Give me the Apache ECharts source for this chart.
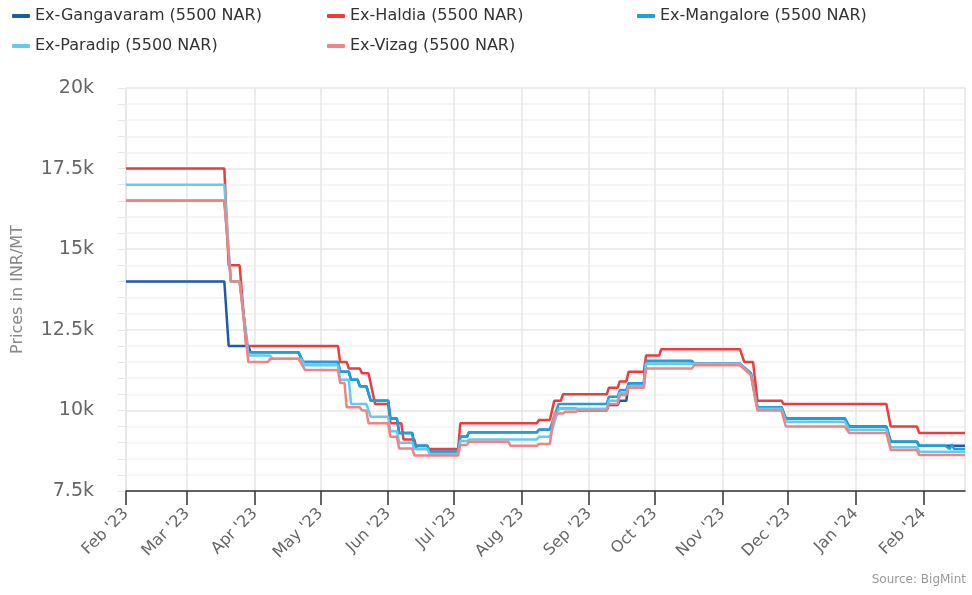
<!DOCTYPE html>
<html>
<head>
<meta charset="utf-8">
<script src="https://cdn.jsdelivr.net/npm/echarts@6/dist/echarts.min.js"></script>
<style>
  html, body { margin: 0; padding: 0; background: #fff; }
  #chart { width: 972px; height: 595px; }
</style>
</head>
<body>
<div id="chart"></div>
<script>
'use strict';

const seriesNames = [
    'Ex-Gangavaram (5500 NAR)',
    'Ex-Haldia (5500 NAR)',
    'Ex-Mangalore (5500 NAR)',
    'Ex-Paradip (5500 NAR)',
    'Ex-Vizag (5500 NAR)',
];

const yTicks = [7500, 10000, 12500, 15000, 17500, 20000];

const gangavaram = [
    ['2023-02-01', 14000], ['2023-03-18', 14000], ['2023-03-20', 12000], ['2023-03-29', 12000],
    ['2023-03-30', 11800], ['2023-04-21', 11800], ['2023-04-23', 11500], ['2023-05-09', 11500],
    ['2023-05-10', 11200], ['2023-05-14', 11200], ['2023-05-15', 10950], ['2023-05-18', 10950],
    ['2023-05-19', 10750], ['2023-05-22', 10750], ['2023-05-24', 10300], ['2023-06-01', 10300],
    ['2023-06-02', 9750], ['2023-06-05', 9750], ['2023-06-06', 9300], ['2023-06-12', 9300],
    ['2023-06-13', 8900], ['2023-06-19', 8900], ['2023-06-20', 8720], ['2023-07-03', 8720],
    ['2023-07-04', 9180], ['2023-07-07', 9180], ['2023-07-08', 9320], ['2023-08-08', 9320],
    ['2023-08-09', 9400], ['2023-08-14', 9400], ['2023-08-18', 10050], ['2023-08-26', 10050],
    ['2023-08-27', 10000], ['2023-09-09', 10000], ['2023-09-10', 10170], ['2023-09-14', 10170],
    ['2023-09-15', 10300], ['2023-09-18', 10300], ['2023-09-19', 10840], ['2023-09-26', 10840],
    ['2023-09-27', 11530], ['2023-10-18', 11530], ['2023-10-19', 11450], ['2023-11-09', 11450],
    ['2023-11-14', 11150], ['2023-11-17', 10100], ['2023-11-28', 10100], ['2023-11-30', 9750],
    ['2023-12-27', 9750], ['2023-12-29', 9500], ['2024-01-15', 9500], ['2024-01-17', 9030],
    ['2024-01-29', 9030], ['2024-01-30', 8900], ['2024-02-20', 8900],
];

const haldia = [
    ['2023-02-01', 17500], ['2023-03-18', 17500], ['2023-03-20', 14500], ['2023-03-25', 14500],
    ['2023-03-28', 12000], ['2023-05-09', 12000], ['2023-05-10', 11500], ['2023-05-13', 11500],
    ['2023-05-14', 11300], ['2023-05-19', 11300], ['2023-05-20', 11150], ['2023-05-23', 11150],
    ['2023-05-26', 10200], ['2023-06-01', 10200], ['2023-06-02', 9600], ['2023-06-07', 9600],
    ['2023-06-08', 9100], ['2023-06-13', 9100], ['2023-06-14', 8800], ['2023-07-03', 8800],
    ['2023-07-04', 9600], ['2023-08-08', 9600], ['2023-08-09', 9700], ['2023-08-14', 9700],
    ['2023-08-16', 10300], ['2023-08-19', 10300], ['2023-08-20', 10500], ['2023-09-09', 10500],
    ['2023-09-10', 10700], ['2023-09-14', 10700], ['2023-09-15', 10900], ['2023-09-18', 10900],
    ['2023-09-19', 11200], ['2023-09-26', 11200], ['2023-09-27', 11700], ['2023-10-03', 11700],
    ['2023-10-04', 11900], ['2023-11-09', 11900], ['2023-11-11', 11500], ['2023-11-15', 11500],
    ['2023-11-17', 10300], ['2023-11-28', 10300], ['2023-11-29', 10200], ['2024-01-15', 10200],
    ['2024-01-17', 9500], ['2024-01-29', 9500], ['2024-01-30', 9300], ['2024-02-20', 9300],
];

const mangalore = [
    ['2023-02-01', 16500], ['2023-03-18', 16500], ['2023-03-21', 14000], ['2023-03-25', 14000],
    ['2023-03-29', 11800], ['2023-04-21', 11800], ['2023-04-23', 11500], ['2023-05-09', 11500],
    ['2023-05-10', 11200], ['2023-05-14', 11200], ['2023-05-15', 10950], ['2023-05-18', 10950],
    ['2023-05-19', 10750], ['2023-05-22', 10750], ['2023-05-24', 10300], ['2023-06-01', 10300],
    ['2023-06-02', 9750], ['2023-06-05', 9750], ['2023-06-06', 9300], ['2023-06-12', 9300],
    ['2023-06-13', 8900], ['2023-06-19', 8900], ['2023-06-20', 8720], ['2023-07-03', 8720],
    ['2023-07-04', 9180], ['2023-07-07', 9180], ['2023-07-08', 9320], ['2023-08-08', 9320],
    ['2023-08-09', 9400], ['2023-08-14', 9400], ['2023-08-18', 10200], ['2023-09-09', 10200],
    ['2023-09-10', 10420], ['2023-09-14', 10420], ['2023-09-15', 10630], ['2023-09-18', 10630],
    ['2023-09-19', 10840], ['2023-09-26', 10840], ['2023-09-27', 11530], ['2023-10-18', 11530],
    ['2023-10-19', 11450], ['2023-11-09', 11450], ['2023-11-14', 11150], ['2023-11-17', 10100],
    ['2023-11-28', 10100], ['2023-11-30', 9750], ['2023-12-27', 9750], ['2023-12-29', 9500],
    ['2024-01-15', 9500], ['2024-01-17', 9030], ['2024-01-29', 9030], ['2024-01-30', 8900],
    ['2024-02-11', 8900], ['2024-02-13', 8800], ['2024-02-14', 8950], ['2024-02-15', 8800],
    ['2024-02-20', 8800],
];

const paradip = [
    ['2023-02-01', 17000], ['2023-03-18', 17000], ['2023-03-21', 14000], ['2023-03-25', 14000],
    ['2023-03-29', 11700], ['2023-04-08', 11700], ['2023-04-09', 11600], ['2023-04-22', 11600],
    ['2023-04-24', 11400], ['2023-05-09', 11400], ['2023-05-10', 10950], ['2023-05-14', 10950],
    ['2023-05-15', 10200], ['2023-05-22', 10200], ['2023-05-24', 9800], ['2023-06-01', 9800],
    ['2023-06-02', 9350], ['2023-06-05', 9350], ['2023-06-06', 9000], ['2023-06-12', 9000],
    ['2023-06-13', 8800], ['2023-06-19', 8800], ['2023-06-20', 8650], ['2023-07-03', 8650],
    ['2023-07-04', 9050], ['2023-07-07', 9050], ['2023-07-08', 9100], ['2023-08-08', 9100],
    ['2023-08-09', 9180], ['2023-08-14', 9180], ['2023-08-18', 10050], ['2023-09-09', 10050],
    ['2023-09-10', 10300], ['2023-09-14', 10300], ['2023-09-15', 10550], ['2023-09-18', 10550],
    ['2023-09-19', 10750], ['2023-09-26', 10750], ['2023-09-27', 11450], ['2023-11-09', 11450],
    ['2023-11-14', 11100], ['2023-11-17', 10050], ['2023-11-28', 10050], ['2023-11-30', 9650],
    ['2023-12-27', 9650], ['2023-12-29', 9400], ['2024-01-15', 9400], ['2024-01-17', 8860],
    ['2024-01-29', 8860], ['2024-01-30', 8720], ['2024-02-20', 8720],
];

const vizag = [
    ['2023-02-01', 16500], ['2023-03-18', 16500], ['2023-03-21', 14000], ['2023-03-25', 14000],
    ['2023-03-29', 11500], ['2023-04-07', 11500], ['2023-04-08', 11600], ['2023-04-21', 11600],
    ['2023-04-24', 11250], ['2023-05-09', 11250], ['2023-05-10', 10850], ['2023-05-12', 10850],
    ['2023-05-13', 10100], ['2023-05-19', 10100], ['2023-05-20', 10000], ['2023-05-22', 10000],
    ['2023-05-23', 9600], ['2023-06-01', 9600], ['2023-06-02', 9180], ['2023-06-05', 9180],
    ['2023-06-06', 8820], ['2023-06-12', 8820], ['2023-06-13', 8600], ['2023-07-03', 8600],
    ['2023-07-04', 8930], ['2023-07-07', 8930], ['2023-07-08', 9030], ['2023-07-26', 9030],
    ['2023-07-27', 8900], ['2023-08-08', 8900], ['2023-08-09', 8960], ['2023-08-14', 8960],
    ['2023-08-16', 9900], ['2023-08-20', 9900], ['2023-08-21', 9960], ['2023-08-26', 9960],
    ['2023-08-27', 10000], ['2023-09-09', 10000], ['2023-09-10', 10200], ['2023-09-14', 10200],
    ['2023-09-15', 10480], ['2023-09-18', 10480], ['2023-09-19', 10700], ['2023-09-26', 10700],
    ['2023-09-27', 11300], ['2023-10-18', 11300], ['2023-10-19', 11400], ['2023-11-09', 11400],
    ['2023-11-14', 11100], ['2023-11-17', 10000], ['2023-11-28', 10000], ['2023-11-30', 9500],
    ['2023-12-27', 9500], ['2023-12-29', 9300], ['2024-01-15', 9300], ['2024-01-17', 8770],
    ['2024-01-29', 8770], ['2024-01-30', 8620], ['2024-02-20', 8620],
];

const seriesData = [gangavaram, haldia, mangalore, paradip, vizag];
const colors = ['#1f5aa8', '#ee3b3b', '#1ba0dc', '#66c9f2', '#f08484'];
const FONT = 'DejaVu Sans';

const legendPos = [
    {left: 12, top: 8},
    {left: 327, top: 8},
    {left: 637, top: 8},
    {left: 12, top: 38},
    {left: 327, top: 38},
];

const chart = echarts.init(document.getElementById('chart'), null, {renderer: 'canvas'});

chart.setOption({
    animation: false,
    color: colors,
    textStyle: {fontFamily: FONT},
    legend: seriesNames.map((name, i) => ({
        data: [name],
        left: legendPos[i].left,
        top: legendPos[i].top,
        padding: 0,
        icon: 'roundRect',
        itemWidth: 18,
        itemHeight: 4,
        itemGap: 0,
        textStyle: {fontFamily: FONT, fontSize: 16, color: '#333'},
    })),
    grid: {left: 126, right: 7, top: 88, bottom: 104, containLabel: false, outerBoundsMode: 'none'},
    xAxis: {
        type: 'time',
        min: '2023-02-01',
        max: '2024-02-20',
        splitNumber: 13,
        minInterval: 28 * 86400000,
        maxInterval: 31 * 86400000,
        axisLine: {lineStyle: {color: '#333', width: 1.5}},
        axisTick: {show: true, length: 14, lineStyle: {color: '#333', width: 1.5}},
        axisLabel: {
            rotate: 45,
            margin: 20,
            fontFamily: FONT,
            fontSize: 16,
            color: '#666',
            formatter: "{MMM} '{yy}",
            showMaxLabel: false,
            hideOverlap: false,
        },
        splitLine: {show: true, lineStyle: {color: '#e6e6e6', width: 1.5}},
    },
    yAxis: {
        type: 'value',
        min: yTicks[0],
        max: yTicks[yTicks.length - 1],
        interval: 2500,
        name: 'Prices in INR/MT',
        nameLocation: 'middle',
        nameGap: 100,
        nameTextStyle: {fontFamily: FONT, fontSize: 16, color: '#888'},
        axisLine: {show: false},
        axisTick: {show: true, length: 8, lineStyle: {color: '#e6e6e6'}},
        minorTick: {show: true, splitNumber: 5, length: 8, lineStyle: {color: '#e6e6e6'}},
        axisLabel: {
            margin: 32,
            fontFamily: FONT,
            fontSize: 19,
            color: '#666',
            formatter: v => (v / 1000) + 'k',
        },
        splitLine: {show: true, lineStyle: {color: '#e6e6e6', width: 1.5}},
        minorSplitLine: {show: true, lineStyle: {color: '#f2f2f2', width: 1.5}},
    },
    graphic: [{
        type: 'text',
        right: 6,
        top: 574,
        style: {text: 'Source: BigMint', fontFamily: FONT, fontSize: 12, fill: '#999'},
    }],
    series: seriesNames.map((name, i) => ({
        name,
        type: 'line',
        data: seriesData[i],
        showSymbol: false,
        symbol: 'none',
        lineStyle: {width: 2.5, color: colors[i]},
        itemStyle: {color: colors[i]},
        z: 2 + i,
    })),
});
</script>
</body>
</html>
